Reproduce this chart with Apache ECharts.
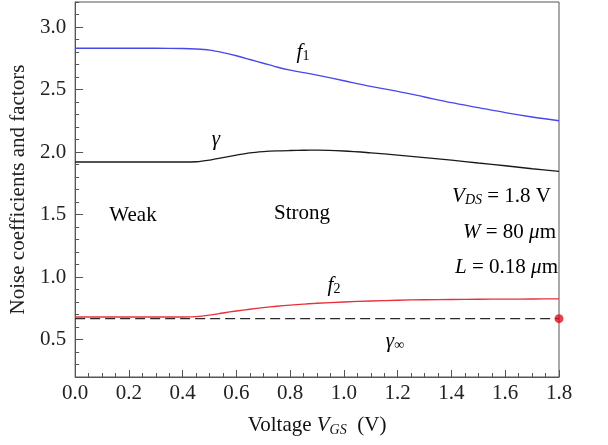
<!DOCTYPE html>
<html>
<head>
<meta charset="utf-8">
<script src="https://cdn.jsdelivr.net/npm/echarts@6/dist/echarts.min.js"></script>
<style>
  html, body { margin: 0; padding: 0; background: #fff; }
  #chart { width: 608px; height: 445px; }
</style>
</head>
<body>
<div id="chart"></div>
<script>
const vgs = [0, 0.1, 0.2, 0.3, 0.4, 0.45, 0.5, 0.55, 0.6, 0.65, 0.7, 0.75, 0.8, 0.85, 0.9, 1.0, 1.1, 1.2, 1.3, 1.4, 1.5, 1.6, 1.7, 1.8];
const f1 = [2.83, 2.83, 2.83, 2.83, 2.828, 2.824, 2.815, 2.795, 2.77, 2.74, 2.71, 2.68, 2.655, 2.635, 2.615, 2.57, 2.525, 2.485, 2.44, 2.395, 2.355, 2.315, 2.28, 2.25];
const gamma = [1.92, 1.92, 1.92, 1.92, 1.92, 1.922, 1.935, 1.955, 1.975, 1.993, 2.003, 2.009, 2.012, 2.014, 2.015, 2.008, 1.993, 1.975, 1.955, 1.935, 1.912, 1.89, 1.866, 1.845];
const f2 = [0.68, 0.68, 0.68, 0.68, 0.68, 0.683, 0.695, 0.712, 0.728, 0.742, 0.755, 0.766, 0.775, 0.783, 0.79, 0.80, 0.808, 0.814, 0.818, 0.82, 0.822, 0.823, 0.824, 0.825];
const gammaInf = 0.667;
const yMajorTicks = [0.5, 1.0, 1.5, 2.0, 2.5, 3.0];

const serif = 'Liberation Serif';
const pair = (ys) => vgs.map((x, i) => [x, ys[i]]);

const chart = echarts.init(document.getElementById('chart'));

const lineSeries = (name, ys, color) => ({
  name, type: 'line', data: pair(ys), smooth: 0.3, showSymbol: false,
  lineStyle: { color, width: 1.3 }, z: 3
});

// rich styles for the math-like labels
const mathRich = (size) => ({
  i: { fontFamily: serif, fontSize: size, fontStyle: 'italic', color: '#111' },
  n: { fontFamily: serif, fontSize: size, color: '#111' },
  s: { fontFamily: serif, fontSize: Math.round(size * 0.68), color: '#111', verticalAlign: 'bottom', padding: [9, 0, 0, 0] },
  si: { fontFamily: serif, fontSize: Math.round(size * 0.68), fontStyle: 'italic', color: '#111', verticalAlign: 'bottom', padding: [9, 0, 0, 0] }
});

const note = (x, y, text, align) => ({
  type: 'text', x, y,
  style: { text, align: align || 'center', verticalAlign: 'middle', rich: mathRich(21) }
});

const option = {
  animation: false,
  grid: { left: 72, right: 49, top: 2, bottom: 68, show: true, borderColor: '#555', borderWidth: 1 },
  xAxis: {
    type: 'value', min: 0, max: 1.8, interval: 0.2,
    axisLine: { lineStyle: { color: '#555' } },
    axisTick: { inside: true, length: 7, lineStyle: { color: '#555' } },
    minorTick: { show: true, splitNumber: 4, length: 4, lineStyle: { color: '#555' } },
    splitLine: { show: false },
    axisLabel: { formatter: v => v.toFixed(1), fontFamily: serif, fontSize: 21, color: '#222', margin: 6 },
    name: '{n|Voltage }{i|V}{si|GS}{n|  (V)}',
    nameLocation: 'middle', nameGap: 37,
    nameTextStyle: { rich: mathRich(21) }
  },
  yAxis: [
    {
      type: 'value', min: 0.2, max: 3.2, interval: 0.1,
      axisLine: { show: true, lineStyle: { color: '#555' } },
      axisTick: { show: true, inside: true, length: 4, lineStyle: { color: '#555' } },
      axisLabel: { show: false },
      splitLine: { show: false }
    },
    {
      type: 'value', min: 0.2, max: 3.2, interval: 0.1, position: 'left',
      axisLine: { show: false },
      axisTick: { show: true, inside: true, length: 8, customValues: yMajorTicks, lineStyle: { color: '#555' } },
      axisLabel: { customValues: yMajorTicks, formatter: v => v.toFixed(1), fontFamily: serif, fontSize: 21, color: '#222', margin: 9 },
      splitLine: { show: false },
      name: 'Noise coefficients and factors',
      nameLocation: 'middle', nameGap: 44,
      nameTextStyle: { fontFamily: serif, fontSize: 21, color: '#222' }
    }
  ],
  series: [
    lineSeries('f1', f1, '#4848ee'),
    lineSeries('gamma', gamma, '#1a1a1a'),
    lineSeries('f2', f2, '#e8303a'),
    {
      name: 'gammaInf', type: 'line', data: [[vgs[0], gammaInf], [vgs[vgs.length - 1], gammaInf]],
      showSymbol: false, lineStyle: { color: '#2a2a2a', width: 1.3, type: [10, 5] }, z: 2
    },
    {
      name: 'dot', type: 'scatter', data: [[vgs[vgs.length - 1], gammaInf]],
      symbolSize: 9, itemStyle: { color: '#e0101a' }, clip: false, z: 5
    }
  ],
  graphic: [
    note(303, 52, '{i|f}{s|1}'),
    note(216, 139, '{i|γ}'),
    note(133, 215, '{n|Weak}'),
    note(302, 213, '{n|Strong}'),
    note(551, 196, '{i|V}{si|DS}{n| = 1.8 V}', 'right'),
    note(556, 232, '{i|W}{n| = 80 }{i|μ}{n|m}', 'right'),
    note(558, 267, '{i|L}{n| = 0.18 }{i|μ}{n|m}', 'right'),
    note(334, 285, '{i|f}{s|2}'),
    note(395, 341, '{i|γ}{s|∞}')
  ]
};

chart.setOption(option);
</script>
</body>
</html>
